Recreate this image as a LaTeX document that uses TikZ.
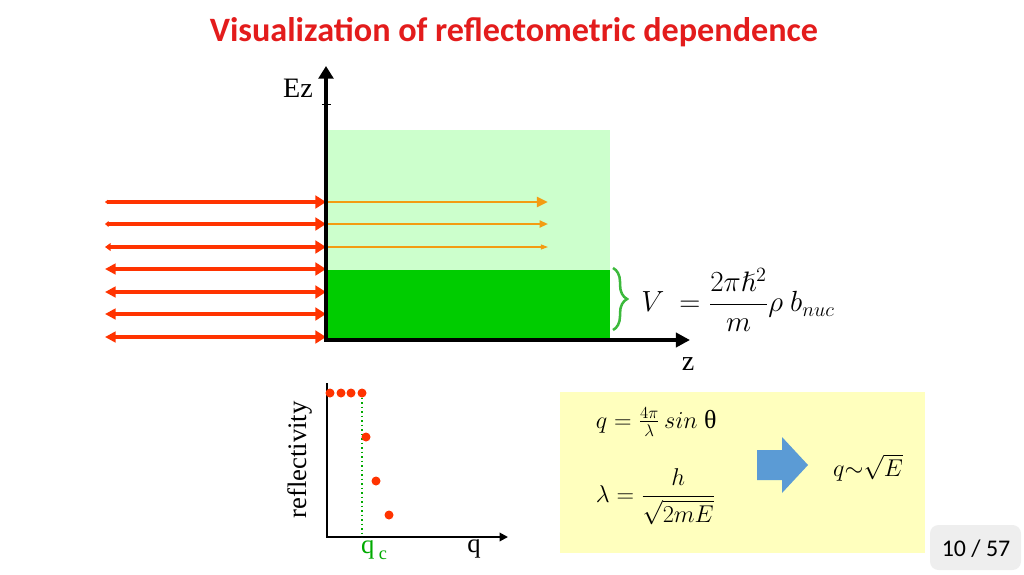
\documentclass[tikz,border=0pt]{standalone}
\usepackage{amsmath, amssymb}
\usepackage{fontspec}
\setmainfont{Liberation Serif}
\newfontfamily\titlefont{Carlito}
\usepackage{tikz}
\usetikzlibrary{arrows.meta, decorations.pathreplacing}
\usepackage{xcolor}
\definecolor{titleRed}{RGB}{227, 28, 28}
\definecolor{rayRed}{RGB}{255, 51, 0}
\definecolor{rayOrange}{RGB}{243, 156, 18}
\definecolor{layerLight}{RGB}{204, 255, 204}
\definecolor{layerDark}{RGB}{0, 204, 0}
\definecolor{braceGreen}{RGB}{60, 185, 60}
\definecolor{qcGreen}{RGB}{0, 170, 0}
\definecolor{boxYellow}{RGB}{255, 255, 190}
\definecolor{arrowBlue}{RGB}{91, 155, 213}
\definecolor{pageGray}{RGB}{238, 238, 238}

\begin{document}
\begin{tikzpicture}[x=0.025cm, y=-0.025cm]
  \useasboundingbox (0,0) rectangle (1024,574);
  \def\fsz#1{\fontsize{#1}{#1}\selectfont}

  % Title
  \node[font=\titlefont\bfseries\fsz{24.3}, text=titleRed] (title) at (514,32)
    {Visualization of reflectometric dependence};

  % Layers
  \fill[layerLight] (326,130) rectangle (610,270);
  \fill[layerDark] (326,270) rectangle (610,338);

  % Incident and reflected rays
  \foreach \y/\l/\w in {202/2/3, 224/2.5/4, 247/4/5.5, 269/7.5/7.5, 292/7.5/7.5, 314/7.5/7.5, 337/7.5/7.5} {
    \draw[rayRed, line width=2.6pt,
          {Triangle[length=\l pt, width=\w pt]}-{Triangle[length=7.5pt, width=9pt]}]
      (105,\y) -- (326,\y);
  }

  % Transmitted rays
  \foreach \y/\lw/\l/\w in {202/2pt/8pt/7pt, 224/1.4pt/6pt/5pt, 247/0.8pt/5pt/3.5pt} {
    \draw[rayOrange, line width=\lw, -{Triangle[length=\l, width=\w]}]
      (326,\y) -- (548,\y);
  }

  % Axes
  \draw[line width=2.6pt, {Triangle[length=9pt, width=10.5pt]}-{Triangle[length=10pt, width=10pt]}]
    (326,66) -- (326,340) -- (690,340);
  \draw[line width=0.6pt] (322,104) -- (331,104);
  \node[font=\fsz{20}] (ez) at (298,88) {Ez};
  \node[font=\fsz{20}] (z) at (688,364) {z};

  % Potential
  \draw[braceGreen, line width=1.8pt, decorate, decoration={brace, amplitude=10pt}]
    (613,268) -- (613,330);
  \node[font=\fsz{20}] (pot) at (738,300) {$V\ =\dfrac{2\pi\hslash^2}{m}\rho\ b_{nuc}$};

  % Reflectivity plot
  \draw[line width=1.4pt, -{Triangle[length=6pt, width=6pt]}]
    (327,383) -- (327,537) -- (508,537);
  \draw[qcGreen, line width=1.2pt, dotted] (362,393) -- (362,537);
  \foreach \x/\y in {330/393, 341/393, 351/393, 362/393, 366/437, 376/481, 389/515} {
    \fill[rayRed] (\x,\y) circle[radius=3.2pt];
  }
  \node[font=\fsz{19}, rotate=90] (refl) at (300,460) {reflectivity};
  \node[font=\fsz{19}, text=qcGreen] (qc) at (374,550) {q\,\raisebox{-0.45ex}{\fsz{13}c}};
  \node[font=\fsz{19}] (q) at (474,549) {q};

  % Relations
  \fill[boxYellow] (560,392) rectangle (925,553);
  \node[font=\fsz{18.5}, anchor=west] (qdef) at (591,422) {$q=\frac{4\pi}{\lambda}\,sin$ θ};
  \node[font=\fsz{18}, anchor=west] (ldef) at (591,497) {$\lambda=\dfrac{h}{\sqrt{2mE}}$};
  \fill[arrowBlue] (757,450) -- (782,450) -- (782,437) -- (808,465)
    -- (782,493) -- (782,480) -- (757,480) -- cycle;
  \node[font=\fsz{18}] (qe) at (868,468) {$q{\sim}\sqrt{E}$};

  % Page number
  \fill[pageGray, rounded corners=6pt] (930,525) rectangle (1021,570);
  \node[font=\titlefont\fsz{17}] (page) at (976,549) {10 / 57};
\end{tikzpicture}
\end{document}
